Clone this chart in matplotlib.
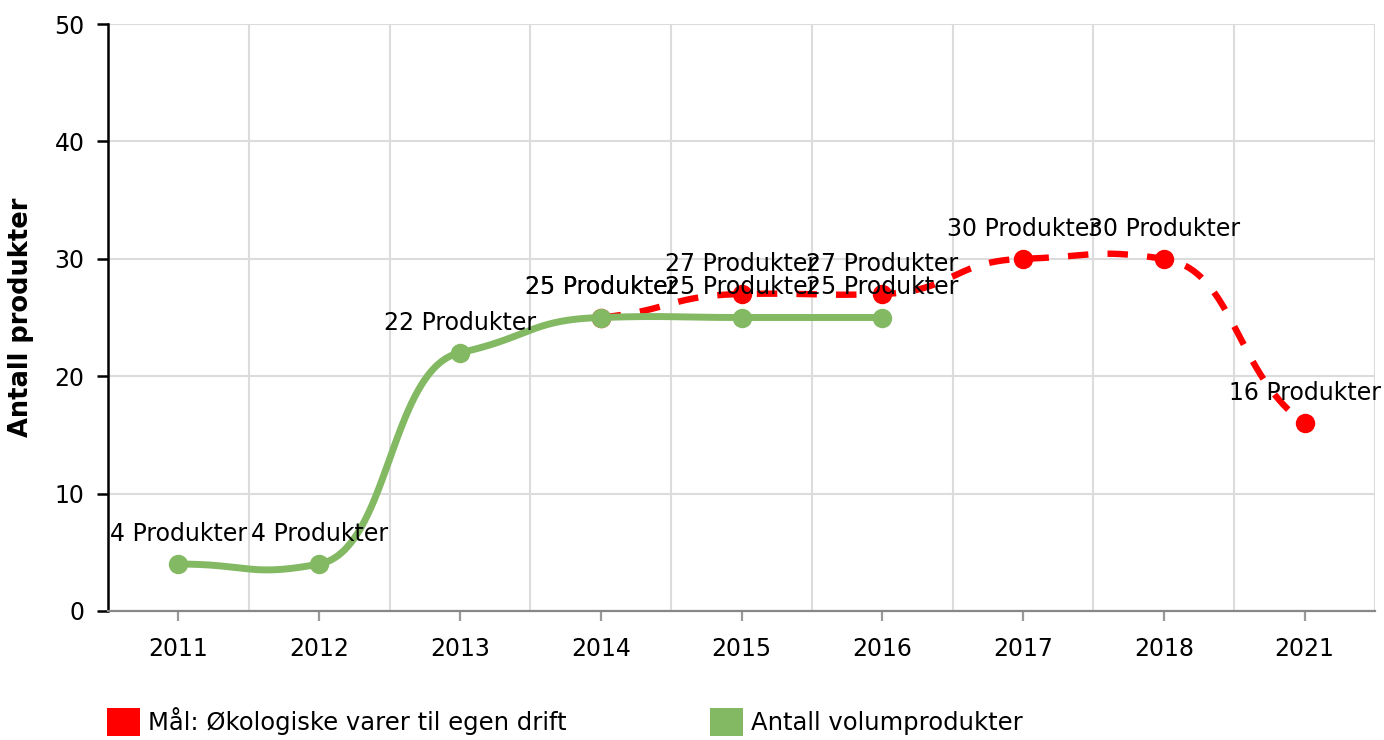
import numpy as np
import matplotlib
matplotlib.use('Agg')
import matplotlib.pyplot as plt
from matplotlib.patches import Patch

# ---- data ----
categories = ['2011', '2012', '2013', '2014', '2015', '2016', '2017', '2018', '2021']
goal_values = [None, None, None, 25, 27, 27, 30, 30, 16]      # Mål: Økologiske varer til egen drift
volume_values = [4, 4, 22, 25, 25, 25, None, None, None]     # Antall volumprodukter
goal_name = 'Mål: Økologiske varer til egen drift'
volume_name = 'Antall volumprodukter'
label_suffix = ' Produkter'
y_ticks = [0, 10, 20, 30, 40, 50]

RED = '#ff0000'
GREEN = '#83b963'
GRID = '#dcdcdc'
FS = 17

plt.rcParams['font.family'] = ['DejaVu Sans']


def smooth(xs, ys, c=0.5, s=0.25, e=0.6, n=80):
    xs = np.asarray(xs, float)
    ys = np.asarray(ys, float)
    k = len(xs)
    m = np.zeros(k)
    for i in range(1, k - 1):
        m[i] = s * (ys[i + 1] - ys[i - 1]) / (xs[i + 1] - xs[i - 1])
    m[0] = e * (ys[1] - ys[0]) / (xs[1] - xs[0])
    m[-1] = e * (ys[-1] - ys[-2]) / (xs[-1] - xs[-2])
    outx, outy = [], []
    t = np.linspace(0, 1, n)
    for i in range(k - 1):
        x0, x1, y0, y1 = xs[i], xs[i + 1], ys[i], ys[i + 1]
        dx = x1 - x0
        P = np.array([[x0, y0],
                      [x0 + c * dx, y0 + c * dx * m[i]],
                      [x1 - c * dx, y1 - c * dx * m[i + 1]],
                      [x1, y1]])
        b = np.stack([(1 - t) ** 3, 3 * (1 - t) ** 2 * t, 3 * (1 - t) * t ** 2, t ** 3], axis=1)
        pts = b @ P
        outx.extend(pts[:, 0])
        outy.extend(pts[:, 1])
    return np.array(outx), np.array(outy)


fig = plt.figure(figsize=(13.84, 7.40), dpi=100)
W, H = 1384, 740
ax = fig.add_axes([108 / W, (H - 611) / H, (1375 - 108) / W, (611 - 24) / H])

x_all = np.arange(len(categories))

# goal series (red, dashed) drawn first
gx = [x for x, v in zip(x_all, goal_values) if v is not None]
gy = [v for v in goal_values if v is not None]
sx, sy = smooth(gx, gy)
ax.plot(sx, sy, color=RED, lw=4.6, linestyle=(0, (3.2, 3.0)), dash_capstyle='butt', zorder=3)
ax.plot(gx, gy, 'o', color=RED, ms=14, mew=0, zorder=4)

# volume series (green, solid)
vx = [x for x, v in zip(x_all, volume_values) if v is not None]
vy = [v for v in volume_values if v is not None]
sx, sy = smooth(vx, vy)
ax.plot(sx, sy, color=GREEN, lw=5.0, solid_capstyle='round', zorder=5)
ax.plot(vx, vy, 'o', color=GREEN, ms=14, mew=0, zorder=6)

# data labels
for xs_, ys_ in ((gx, gy), (vx, vy)):
    for x, y in zip(xs_, ys_):
        ax.annotate(f'{y}{label_suffix}', (x, y), xytext=(0, 23), textcoords='offset pixels',
                    ha='center', va='baseline', fontsize=FS, color='black', zorder=8)

ax.set_xlim(-0.5, len(categories) - 0.5)
ax.set_ylim(0, 50)
ax.set_xticks(x_all)
ax.set_xticklabels(categories, fontsize=FS)
ax.set_xticks(np.arange(len(categories) + 1) - 0.5, minor=True)
ax.set_yticks(y_ticks)
ax.set_yticklabels([str(v) for v in y_ticks], fontsize=FS)

ax.grid(True, axis='y', which='major', color=GRID, lw=1.5, zorder=0)
ax.grid(True, axis='x', which='minor', color=GRID, lw=1.5, zorder=0)
ax.grid(False, axis='x', which='major')
ax.set_axisbelow(True)

for sp in ('top', 'right'):
    ax.spines[sp].set_visible(False)
ax.spines['left'].set_color('black')
ax.spines['left'].set_linewidth(1.8)
ax.spines['bottom'].set_color('#888888')
ax.spines['bottom'].set_linewidth(1.6)
ax.tick_params(axis='y', which='major', length=8, width=1.8, color='black', pad=9, direction='out')
ax.tick_params(axis='x', which='major', length=7, width=1.6, color='#999999', pad=12, direction='out')
ax.tick_params(axis='x', which='minor', length=0)

ax.set_ylabel('Antall produkter', fontsize=18.5, fontweight='bold')
ax.yaxis.set_label_coords((34 - 108) / (1375 - 108), 0.5)

handles = [Patch(facecolor=RED, edgecolor='none', label=goal_name),
           Patch(facecolor=GREEN, edgecolor='none', label=volume_name)]
fig.legend(handles=handles, loc='lower left', bbox_to_anchor=(100 / W, -3 / H),
           ncol=2, frameon=False, fontsize=17.5, handlelength=1.35, handleheight=1.4,
           handletextpad=0.33, columnspacing=5.9, borderaxespad=0, borderpad=0.3)

fig.savefig('out.png', dpi=100)
